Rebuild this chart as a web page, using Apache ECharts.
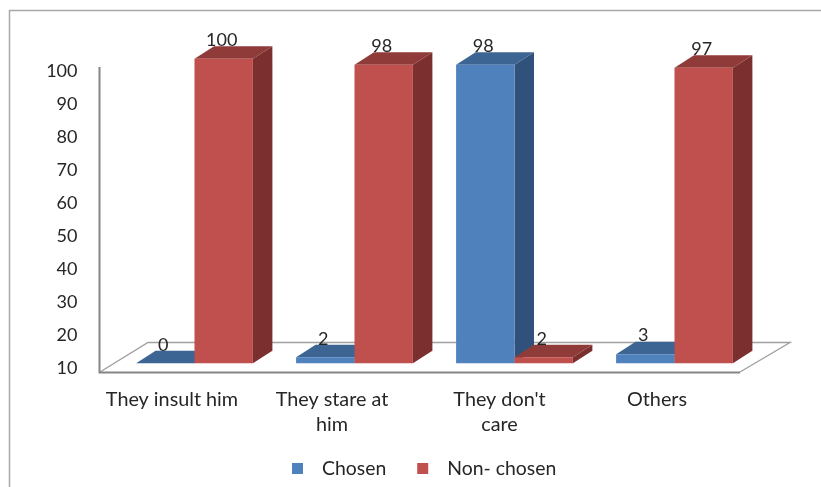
<!DOCTYPE html>
<html><head><meta charset="utf-8">
<style>html,body{margin:0;padding:0;background:#fff}#c{width:821px;height:487px}</style>
<script src="https://cdn.jsdelivr.net/npm/echarts@6/dist/echarts.min.js"></script>
</head><body><div id="c"></div>
<script>
const categories = ["They insult him", "They stare at\nhim", "They don't\ncare", "Others"];
const chosen = [0, 2, 98, 3];
const nonChosen = [100, 98, 2, 97];
const FONT = 'Lato';
const TXT = '#262626';
const depthX = 19.5, depthY = -12.5;
const barShare = 0.365;

function bar3d(front, top, side, dir) {
  return function (params, api) {
    const i = api.value(0), v = api.value(1);
    const band = api.size([1, 0])[0];
    const w = band * barShare;
    const c = api.coord([i, v]), b = api.coord([i, 0]);
    const x0 = dir < 0 ? c[0] - w : c[0], x1 = x0 + w;
    const yT = c[1], yB = b[1];
    const poly = (pts, fill) => ({type: 'polygon', shape: {points: pts}, style: {fill: fill}});
    return {type: 'group', children: [
      poly([[x1, yT], [x1 + depthX, yT + depthY], [x1 + depthX, yB + depthY], [x1, yB]], side),
      poly([[x0, yT], [x0 + depthX, yT + depthY], [x1 + depthX, yT + depthY], [x1, yT]], top),
      poly([[x0, yT], [x1, yT], [x1, yB], [x0, yB]], front),
      {type: 'text', z2: 50, style: {x: (x0 + x1) / 2 - 2, y: yT - 18.5, text: String(v),
        fill: TXT, font: '18px ' + FONT, align: 'center', verticalAlign: 'middle'}}
    ]};
  };
}
const line = (pts, w, col) => ({type: 'polyline', shape: {points: pts}, silent: true,
  style: {stroke: col, lineWidth: w, fill: null}});

const labelShift = [-15, -15, 0, -5];
const rich = {};
labelShift.forEach((s, i) => {
  rich['c' + i] = {fontFamily: FONT, fontSize: 19.8, color: TXT, lineHeight: 25,
    padding: s < 0 ? [0, -s, 0, 0] : [0, 0, 0, s]};
});

const chart = echarts.init(document.getElementById('c'), null, {renderer: 'canvas'});
chart.setOption({
  animation: false,
  backgroundColor: '#fff',
  graphic: [
    line([[9.5, 487], [9.5, 10.5], [821, 10.5]], 1.5, '#A9A9A9'),
    line([[100, 372], [148, 342.5], [790, 342.5], [740, 372]], 1.4, '#A0A0A0'),
    line([[99.5, 67], [99.5, 372.5], [740, 372.5]], 2, '#868686')
  ],
  legend: {
    left: 287, top: 454, itemWidth: 11, itemHeight: 11, itemGap: 31,
    icon: 'rect',
    textStyle: {fontFamily: FONT, fontSize: 19.4, color: TXT, padding: [0, 0, 0, 14]},
    data: ['Chosen', 'Non- chosen']
  },
  grid: [
    {left: 99.5, width: 640, top: 71.5, height: 297},
    {left: 114.5, width: 640, top: 58.7, height: 304.6}
  ],
  xAxis: [
    {type: 'category', gridIndex: 0, data: categories,
     axisLine: {show: false}, axisTick: {show: false},
     axisLabel: {interval: 0, margin: 19, rich: rich,
       formatter: (v, i) => v.split('\n').map(t => '{c' + i + '|' + t + '}').join('\n')}},
    {type: 'category', gridIndex: 1, data: categories, show: false}
  ],
  yAxis: [
    {type: 'value', gridIndex: 0, min: 10, max: 100, interval: 10,
     axisLine: {show: false}, axisTick: {show: false}, splitLine: {show: false},
     axisLabel: {margin: 22, fontFamily: FONT, fontSize: 18, color: TXT}},
    {type: 'value', gridIndex: 1, min: 0, max: 100, show: false}
  ],
  series: [
    {type: 'custom', name: 'Chosen', xAxisIndex: 1, yAxisIndex: 1, clip: false,
     itemStyle: {color: '#4F81BD'},
     renderItem: bar3d('#4F81BD', '#3D6593', '#30527A', -1),
     encode: {x: 0, y: 1}, data: chosen.map((v, i) => [i, v])},
    {type: 'custom', name: 'Non- chosen', xAxisIndex: 1, yAxisIndex: 1, clip: false,
     itemStyle: {color: '#C0504D'},
     renderItem: bar3d('#C0504D', '#8F3B39', '#7B2F2E', 1),
     encode: {x: 0, y: 1}, data: nonChosen.map((v, i) => [i, v])}
  ]
});
</script></body></html>
